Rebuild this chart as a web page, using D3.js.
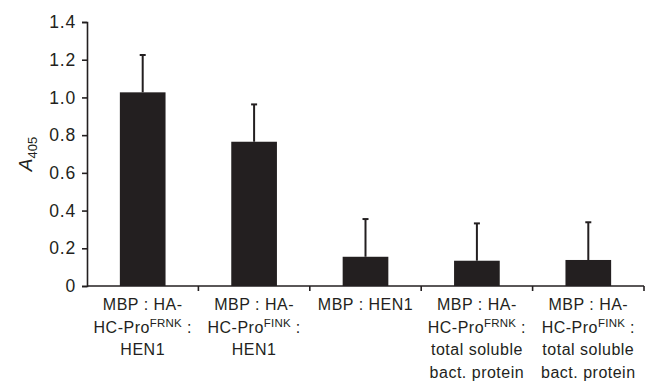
<!DOCTYPE html>
<html>
<head>
<meta charset="utf-8">
<script src="https://cdn.jsdelivr.net/npm/d3@7"></script>
<style>
  body { margin: 0; background: #fff; }
  text { font-family: "Liberation Sans", Arial, sans-serif; fill: #231f20; }
</style>
</head>
<body>
<div id="chart"></div>
<script>
// data
const categories = ["FRNK-HEN1", "FINK-HEN1", "HEN1", "FRNK-total", "FINK-total"];
const values = [1.027, 0.765, 0.155, 0.134, 0.138];
const errTop = [1.225, 0.963, 0.355, 0.332, 0.338];
const yTicks = [0, 0.2, 0.4, 0.6, 0.8, 1.0, 1.2, 1.4];
// each label line: [main, superscript, after]
const labelLines = [
    [["MBP : HA-", "", ""], ["HC-Pro", "FRNK", " :"], ["HEN1", "", ""]],
    [["MBP : HA-", "", ""], ["HC-Pro", "FINK", " :"], ["HEN1", "", ""]],
    [["MBP : HEN1", "", ""]],
    [["MBP : HA-", "", ""], ["HC-Pro", "FRNK", " :"], ["total soluble", "", ""], ["bact. protein", "", ""]],
    [["MBP : HA-", "", ""], ["HC-Pro", "FINK", " :"], ["total soluble", "", ""], ["bact. protein", "", ""]]
];

const width = 653, height = 384;
const margin = { left: 87, right: 9, top: 22, bottom: 98 };

const svg = d3.select("#chart").append("svg")
    .attr("width", width)
    .attr("height", height);

const x = d3.scaleBand()
    .domain(categories)
    .range([margin.left, width - margin.right])
    .padding(0);

const y = d3.scaleLinear()
    .domain([0, 1.4])
    .range([height - margin.bottom, margin.top]);

const barW = x.bandwidth() * 0.41;
const ink = "#231f20";

// barre
svg.append("g")
    .selectAll("rect")
    .data(categories)
    .join("rect")
    .attr("x", (d, i) => x(d) + (x.bandwidth() - barW) / 2)
    .attr("y", (d, i) => y(values[i]))
    .attr("width", barW)
    .attr("height", (d, i) => y(0) - y(values[i]))
    .attr("fill", ink);

// barre di errore (solo verso l'alto)
const err = svg.append("g").attr("stroke", ink).attr("stroke-width", 2);
categories.forEach((c, i) => {
    const cx = x(c) + x.bandwidth() / 2;
    err.append("line")
        .attr("x1", cx).attr("x2", cx)
        .attr("y1", y(values[i])).attr("y2", y(errTop[i]));
    err.append("line")
        .attr("x1", cx - 3).attr("x2", cx + 3)
        .attr("y1", y(errTop[i])).attr("y2", y(errTop[i]));
});

// asse y
const yAxis = svg.append("g")
    .attr("transform", `translate(${margin.left},0)`)
    .call(d3.axisLeft(y).tickValues(yTicks).tickSize(5).tickPadding(6)
        .tickFormat(d => d === 0 ? "0" : d.toFixed(1)));
yAxis.select(".domain").attr("stroke", ink).attr("stroke-width", 1.6);
yAxis.selectAll(".tick line").attr("stroke", ink).attr("stroke-width", 1.6);
yAxis.selectAll(".tick text")
    .attr("font-size", 17.5)
    .attr("letter-spacing", 0.8)
    .attr("fill", ink);

// asse x: linea e tacche ai bordi delle categorie
const xg = svg.append("g");
xg.append("line")
    .attr("x1", margin.left).attr("x2", width - margin.right)
    .attr("y1", y(0)).attr("y2", y(0))
    .attr("stroke", ink).attr("stroke-width", 1.6);
const edges = categories.map(c => x(c) + x.bandwidth());
xg.selectAll(".edge")
    .data(edges)
    .join("line")
    .attr("class", "edge")
    .attr("x1", d => d).attr("x2", d => d)
    .attr("y1", y(0)).attr("y2", y(0) + 5)
    .attr("stroke", ink).attr("stroke-width", 1.6);

// etichette categorie
categories.forEach((c, i) => {
    const cx = x(c) + x.bandwidth() / 2;
    labelLines[i].forEach((ln, j) => {
        const t = svg.append("text")
            .attr("x", cx)
            .attr("y", y(0) + 24 + j * 22.6)
            .attr("text-anchor", "middle")
            .attr("font-size", 16)
            .attr("letter-spacing", 0.5);
        t.append("tspan").text(ln[0]);
        if (ln[1]) {
            t.append("tspan").attr("font-size", 11.5).attr("dy", -6).attr("letter-spacing", 0.2).text(ln[1]);
            t.append("tspan").attr("dy", 6).text(ln[2]);
        }
    });
});

// titolo asse y
const yl = svg.append("text")
    .attr("transform", `translate(32,${(y(0.6) + y(0.8)) / 2}) rotate(-90)`)
    .attr("text-anchor", "middle")
    .attr("font-size", 19);
yl.append("tspan").attr("font-style", "italic").text("A");
yl.append("tspan").attr("font-size", 13).attr("dy", 5).text("405");
</script>
</body>
</html>
